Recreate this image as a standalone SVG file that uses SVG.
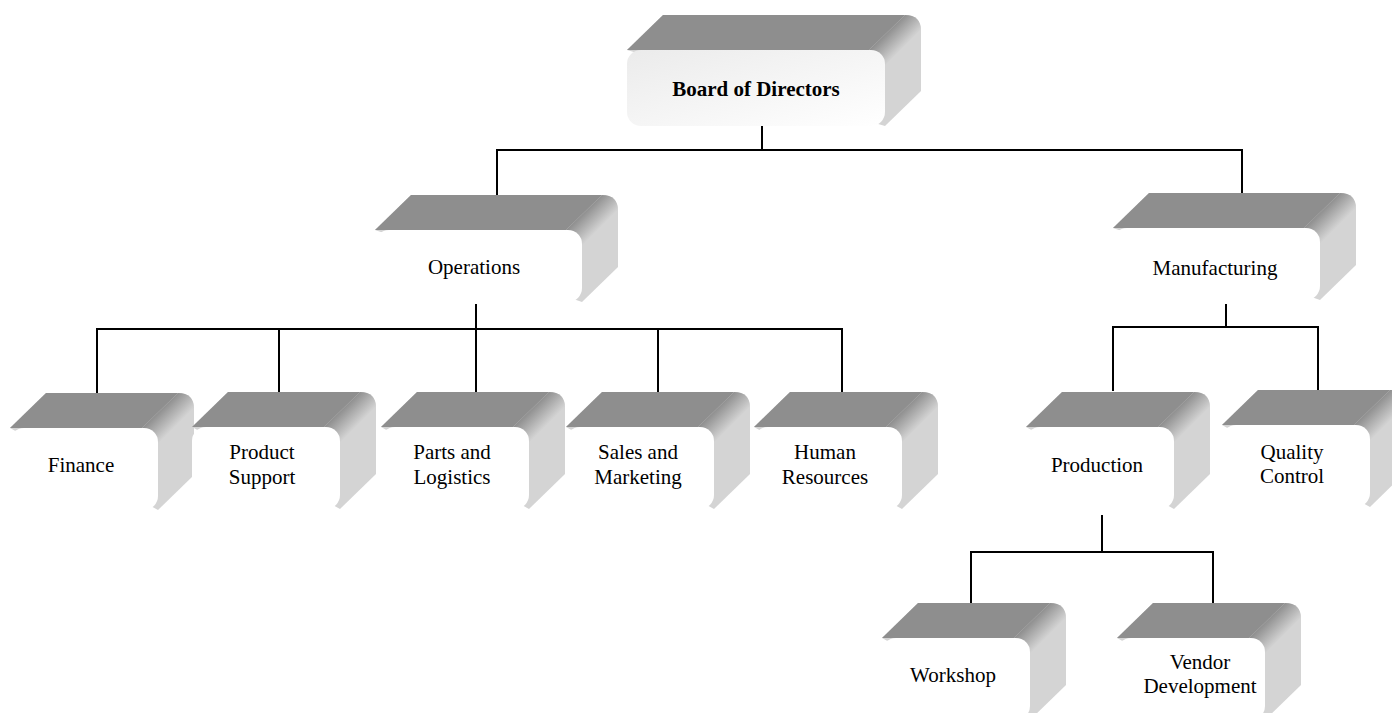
<svg xmlns="http://www.w3.org/2000/svg" xmlns:xlink="http://www.w3.org/1999/xlink" width="1392" height="713" viewBox="0 0 1392 713">
<style>
.side{fill:#d4d4d4}
.top{fill:#8e8e8e}
.front{fill:#ffffff}
.bevel{fill:url(#bevelGrad)}
.lbl{font-family:"Liberation Serif","Times New Roman",serif;font-size:21px;fill:#000;text-anchor:middle}
.bold{font-weight:bold}
.conn{fill:none;stroke:#000;stroke-width:2}
</style>
<defs>
<linearGradient id="bevelGrad" gradientUnits="userSpaceOnUse" x1="-16" y1="0" x2="0" y2="16">
<stop offset="0" stop-color="#8e8e8e"/>
<stop offset="1" stop-color="#d4d4d4"/>
</linearGradient>
<linearGradient id="boardGrad" x1="0" y1="0" x2="1" y2="1">
<stop offset="0" stop-color="#ebebeb"/>
<stop offset="1" stop-color="#ffffff"/>
</linearGradient>
<path id="bevel" class="bevel" d="M-16,0 L20,-35 Q36,-35 36,-19 L0,16 Z"/>
<g id="box-s">
<path class="side" d="M0,0 L36,-35 L168,-35 Q184,-35 184,-19 L184,47 L148,82 Z"/>
<path class="top" d="M0,0 L36,-35 L168,-35 L132,0 Z"/>
<use xlink:href="#bevel" x="148" y="0"/>
<rect class="front" x="0" y="0" width="148" height="82" rx="14"/>
</g>
<g id="box-m">
<path class="side" d="M0,0 L36,-35 L227,-35 Q243,-35 243,-19 L243,37 L207,72 Z"/>
<path class="top" d="M0,0 L36,-35 L227,-35 L191,0 Z"/>
<use xlink:href="#bevel" x="207" y="0"/>
<rect class="front" x="0" y="0" width="207" height="72" rx="14"/>
</g>
<g id="box-l">
<path class="side" d="M0,0 L36,-35 L278,-35 Q294,-35 294,-19 L294,41 L258,76 Z"/>
<path class="top" d="M0,0 L36,-35 L278,-35 L242,0 Z"/>
<use xlink:href="#bevel" x="258" y="0"/>
<rect x="0" y="0" width="258" height="76" rx="14" fill="url(#boardGrad)"/>
</g>
</defs>
<rect width="1392" height="713" fill="#ffffff"/>
<g id="connectors">
<path class="conn" d="M762,126 V150 M497,150 H1242 M497,149 V196 M1242,149 V194"/>
<path class="conn" d="M476,304 V329 M97,329 H842 M97,328 V393 M279,328 V393 M476,328 V393 M658,328 V393 M842,328 V393"/>
<path class="conn" d="M1226,304 V327 M1113,327 H1318 M1113,326 V391 M1318,326 V391"/>
<path class="conn" d="M1102,515 V552 M971,552 H1213 M971,551 V603 M1213,551 V603"/>
</g>
<g id="board">
<use xlink:href="#box-l" x="627" y="50"/>
<text class="lbl bold" x="756" y="96">Board of Directors</text>
</g>
<g id="operations">
<use xlink:href="#box-m" x="375" y="230"/>
<text class="lbl" x="474" y="274">Operations</text>
</g>
<g id="manufacturing">
<use xlink:href="#box-m" x="1113" y="228"/>
<text class="lbl" x="1215" y="275">Manufacturing</text>
</g>
<g id="finance">
<use xlink:href="#box-s" x="10" y="428"/>
<text class="lbl" x="81" y="472">Finance</text>
</g>
<g id="product-support">
<use xlink:href="#box-s" x="192" y="427"/>
<text class="lbl" x="262" y="459">Product</text>
<text class="lbl" x="262" y="484">Support</text>
</g>
<g id="parts-logistics">
<use xlink:href="#box-s" x="381" y="427"/>
<text class="lbl" x="452" y="459">Parts and</text>
<text class="lbl" x="452" y="484">Logistics</text>
</g>
<g id="sales-marketing">
<use xlink:href="#box-s" x="566" y="427"/>
<text class="lbl" x="638" y="459">Sales and</text>
<text class="lbl" x="638" y="484">Marketing</text>
</g>
<g id="human-resources">
<use xlink:href="#box-s" x="754" y="427"/>
<text class="lbl" x="825" y="459">Human</text>
<text class="lbl" x="825" y="484">Resources</text>
</g>
<g id="production">
<use xlink:href="#box-s" x="1026" y="427"/>
<text class="lbl" x="1097" y="472">Production</text>
</g>
<g id="quality-control">
<use xlink:href="#box-s" x="1222" y="425"/>
<text class="lbl" x="1292" y="459">Quality</text>
<text class="lbl" x="1292" y="483">Control</text>
</g>
<g id="workshop">
<use xlink:href="#box-s" x="882" y="638"/>
<text class="lbl" x="953" y="682">Workshop</text>
</g>
<g id="vendor-development">
<use xlink:href="#box-s" x="1117" y="638"/>
<text class="lbl" x="1200" y="669">Vendor</text>
<text class="lbl" x="1200" y="693">Development</text>
</g>
</svg>
